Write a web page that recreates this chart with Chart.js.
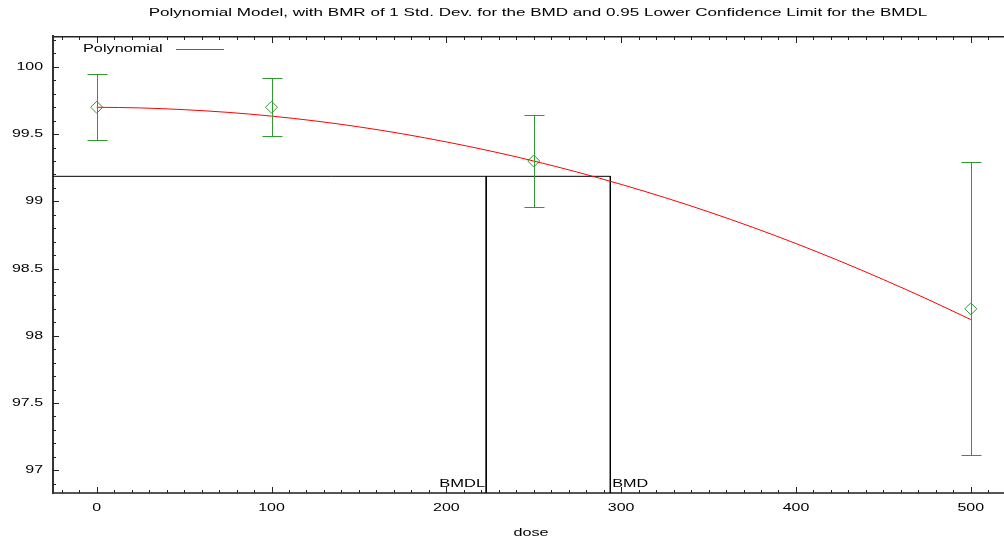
<!DOCTYPE html>
<html lang="en">
<head>
<meta charset="UTF-8">
<title>Polynomial Model</title>
<script src="https://cdn.jsdelivr.net/npm/chart.js"></script>
<style>
  html, body { margin: 0; padding: 0; background: #fff; }
  #wrap { width: 1004px; height: 541px; }
</style>
</head>
<body>
<div id="wrap"><canvas id="bmdChart"></canvas></div>
<script>
// observed dose groups (mean with confidence limits)
const doses = [0, 100, 250, 500];
const means = [99.7, 99.7, 99.3, 98.2];
const lowerCI = [99.454, 99.486, 98.96, 97.109];
const upperCI = [99.951, 99.914, 99.642, 99.295];

// fitted polynomial curve
const fitDose = [0, 25, 50, 75, 100, 125, 150, 175, 200, 225, 250, 275, 300, 325, 350, 375, 400, 425, 450, 475, 500];
const fitValue = [99.700, 99.695, 99.682, 99.662, 99.634, 99.598, 99.554, 99.502, 99.442, 99.375, 99.300, 99.217, 99.126, 99.028, 98.922, 98.808, 98.686, 98.556, 98.418, 98.273, 98.120];

// benchmark dose results
const bmrLevel = 99.186;
const bmdl = 222.8;
const bmd = 293.8;

// axes
const xTicks = [0, 100, 200, 300, 400, 500];
const yTicks = [97, 97.5, 98, 98.5, 99, 99.5, 100];
const xMin = -25, xMax = 519;
const yMin = 96.83, yMax = 100.23;

const titleText = 'Polynomial Model, with BMR of 1 Std. Dev. for the BMD and 0.95 Lower Confidence Limit for the BMDL';

const FONT = '"Liberation Sans", Arial, sans-serif';
const GREEN = '#2f9a2f';

const pts = (xs, ys) => xs.map((x, i) => ({ x: x, y: ys[i] }));

// the original image text is wide, so stretch it sideways
function wideText(c, txt, x, y, align, sx) {
  c.save();
  c.font = '11px ' + FONT;
  c.fillStyle = '#000';
  c.textAlign = align;
  c.textBaseline = 'middle';
  c.translate(x, y);
  c.scale(sx, 1);
  c.fillText(txt, 0, 0);
  c.restore();
}

// ticks inward, error bars, labels and legend
const decor = {
  id: 'decor',
  afterDraw(chart) {
    const c = chart.ctx;
    const xs = chart.scales.x, ys = chart.scales.y;
    const left = Math.round(xs.left), right = Math.round(xs.right);
    const top = Math.round(ys.top), bot = Math.round(ys.bottom);
    c.save();
    c.lineWidth = 1;

    // error bars
    c.strokeStyle = GREEN;
    doses.forEach((d, i) => {
      const px = Math.round(xs.getPixelForValue(d)) + 0.5;
      const lo = Math.round(ys.getPixelForValue(lowerCI[i])) + 0.5;
      const hi = Math.round(ys.getPixelForValue(upperCI[i])) + 0.5;
      c.beginPath();
      c.moveTo(px, lo); c.lineTo(px, hi);
      c.moveTo(px - 10, lo); c.lineTo(px + 10, lo);
      c.moveTo(px - 10, hi); c.lineTo(px + 10, hi);
      c.stroke();
    });

    // frame top
    c.strokeStyle = '#222222';
    c.lineWidth = 1.4;
    c.beginPath();
    c.moveTo(left, top + 0.7); c.lineTo(right, top + 0.7);
    c.stroke();

    // inward ticks
    c.lineWidth = 1;
    c.beginPath();
    for (let v = -20; v <= xMax; v += 10) {
      const px = Math.round(xs.getPixelForValue(v)) + 0.5;
      const len = (v % 100 === 0) ? 6 : 3;
      c.moveTo(px, bot); c.lineTo(px, bot - len);
      c.moveTo(px, top); c.lineTo(px, top + len + 1);
    }
    for (let k = 969; k <= 1002; k++) {
      const py = Math.round(ys.getPixelForValue(k / 10)) + 0.5;
      const len = (k % 5 === 0) ? 6 : 3;
      c.moveTo(left, py); c.lineTo(left + len, py);
    }
    c.stroke();

    // tick labels
    xTicks.forEach(v => wideText(c, String(v), xs.getPixelForValue(v), bot + 15, 'center', 1.45));
    yTicks.forEach(v => wideText(c, String(v), left - 10, ys.getPixelForValue(v), 'right', 1.45));

    // titles
    wideText(c, titleText, 538, 13, 'center', 1.55);
    wideText(c, 'dose', 531, 533, 'center', 1.47);

    // legend
    wideText(c, 'Polynomial', 83, 49, 'left', 1.48);
    c.strokeStyle = '#ff2020';
    c.beginPath();
    c.moveTo(176, 49.5); c.lineTo(224, 49.5);
    c.stroke();

    // BMD labels
    wideText(c, 'BMDL', xs.getPixelForValue(bmdl) - 1, bot - 9, 'right', 1.5);
    wideText(c, 'BMD', xs.getPixelForValue(bmd) + 2, bot - 9, 'left', 1.47);
    c.restore();
  }
};

const ctx = document.querySelector('#bmdChart');
const bmdChart = new Chart(ctx, {
  type: 'scatter',
  data: {
    datasets: [
      {
        label: 'Polynomial',
        data: pts(fitDose, fitValue),
        showLine: true,
        borderColor: '#ff0000',
        borderWidth: 1,
        pointRadius: 0,
        cubicInterpolationMode: 'monotone'
      },
      {
        label: 'BMR',
        data: [{ x: xMin, y: bmrLevel }, { x: bmd, y: bmrLevel }],
        showLine: true,
        borderColor: '#000',
        borderWidth: 1,
        pointRadius: 0
      },
      {
        label: 'BMDL',
        data: [{ x: bmdl, y: bmrLevel }, { x: bmdl, y: yMin }],
        showLine: true,
        borderColor: '#000',
        borderWidth: 1,
        pointRadius: 0
      },
      {
        label: 'BMD',
        data: [{ x: bmd, y: bmrLevel }, { x: bmd, y: yMin }],
        showLine: true,
        borderColor: '#000',
        borderWidth: 1,
        pointRadius: 0
      },
      {
        label: 'Data',
        data: pts(doses, means),
        pointStyle: 'rectRot',
        pointRadius: 6,
        pointBorderColor: GREEN,
        pointBackgroundColor: 'rgba(0,0,0,0)',
        pointBorderWidth: 1,
        showLine: false
      }
    ]
  },
  options: {
    responsive: true,
    maintainAspectRatio: false,
    animation: false,
    layout: { padding: { top: 36, left: 0, right: 0, bottom: 0 }, autoPadding: false },
    plugins: {
      legend: { display: false },
      tooltip: { enabled: false },
      title: { display: false }
    },
    scales: {
      x: {
        type: 'linear',
        min: xMin,
        max: xMax,
        afterBuildTicks: s => { s.ticks = xTicks.map(v => ({ value: v })); },
        afterFit: s => { s.height = 48; s.paddingLeft = 0; s.paddingRight = 0; },
        grid: { display: false, drawTicks: false },
        border: { display: true, color: '#555', width: 2 },
        ticks: { display: false }
      },
      y: {
        type: 'linear',
        min: yMin,
        max: yMax,
        afterBuildTicks: s => { s.ticks = yTicks.map(v => ({ value: v })); },
        afterFit: s => { s.width = 53; s.paddingTop = 0; s.paddingBottom = 0; },
        grid: { display: false, drawTicks: false },
        border: { display: true, color: '#333', width: 2 },
        ticks: { display: false }
      }
    }
  },
  plugins: [decor]
});
</script>
</body>
</html>
